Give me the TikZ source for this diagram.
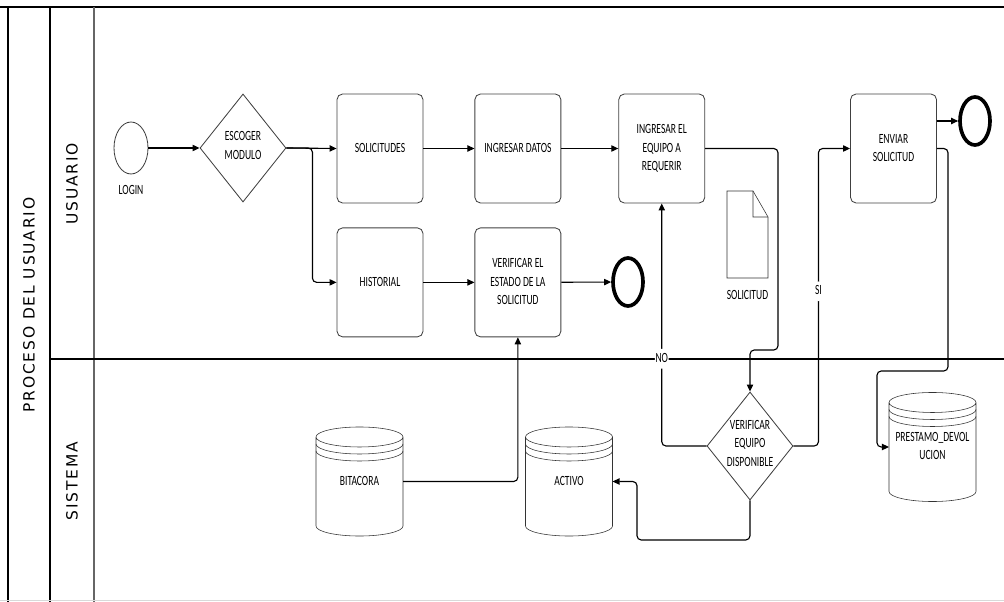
\documentclass[tikz,border=0pt]{standalone}
\usepackage{fontspec}
\usepackage{graphicx}
\setmainfont{Carlito}
\newfontfamily\lanefont[LetterSpace=12]{DejaVu Sans}
\usetikzlibrary{arrows.meta, positioning, shapes.geometric}

% narrow text as in the original drawing
\newcommand{\lbl}[1]{\scalebox{0.68}[1]{\begin{tabular}{@{}c@{}}#1\end{tabular}}}
% text that does not widen a diamond
\newcommand{\gatetxt}[1]{\makebox[0pt]{\raisebox{-2.5pt}{\smash{\lbl{#1}}}}}

% three-ring data store drawn on a named node
\newcommand{\dbdraw}[1]{%
  \draw[draw=black!80] ([yshift=-0.25cm]#1.north west) -- ([yshift=0.25cm]#1.south west)
    arc[start angle=180, end angle=360, x radius=1.0875cm, y radius=0.25cm]
    -- ([yshift=-0.25cm]#1.north east)
    arc[start angle=0, end angle=180, x radius=1.0875cm, y radius=0.25cm]
    arc[start angle=180, end angle=360, x radius=1.0875cm, y radius=0.25cm];
  \draw[draw=black!80] ([yshift=-0.425cm]#1.north west)
    arc[start angle=180, end angle=360, x radius=1.0875cm, y radius=0.25cm];
  \draw[draw=black!80] ([yshift=-0.6cm]#1.north west)
    arc[start angle=180, end angle=360, x radius=1.0875cm, y radius=0.25cm];
}

\begin{document}
\begin{tikzpicture}[
    x=0.025cm, y=-0.025cm,
    txt/.style={font=\fontsize{10}{13}\selectfont},
    task/.style={txt, draw=black!75, semithick, rounded corners=4pt, minimum width=2.15cm, minimum height=2.725cm, inner sep=0pt},
    gate/.style={txt, draw=black!75, semithick, diamond, minimum width=2.15cm, minimum height=2.7cm, inner sep=0pt},
    startev/.style={draw=black!75, semithick, ellipse, minimum width=0.85cm, minimum height=1.3cm},
    endev/.style={draw, ellipse, line width=2.6pt, minimum width=0.75cm, minimum height=1.2cm},
    store/.style={txt, rectangle, minimum width=2.175cm, minimum height=2.725cm, inner sep=0pt, outer sep=0pt},
    docbox/.style={rectangle, minimum width=1.025cm, minimum height=2.175cm, inner sep=0pt, outer sep=0pt},
    lane/.style={font=\lanefont\fontsize{11}{13}\selectfont, rotate=90},
    tag/.style={txt, fill=white, inner sep=0.5pt},
    arrow/.style={-{Triangle[length=5pt,width=4.5pt]}, thick, rounded corners=3pt}
]
\useasboundingbox (0,0) rectangle (1004,602);

% pool and lanes
\draw[line width=1.6pt] (0,7) -- (1004,7);
\draw[thick] (8,7) -- (8,602);
\draw[thick] (50,7) -- (50,602);
\draw[thick, black!60] (94,7) -- (94,602);
\draw[line width=1.2pt] (50,359) -- (1004,359);
\draw[black!15] (0,600) -- (1004,600);

\node[lane] (pool) at (29,305) {PROCESO DEL USUARIO};
\node[lane] (usuario) at (72,184) {USUARIO};
\node[lane] (sistema) at (72,481) {SISTEMA};

% lane USUARIO
\node[startev] (login) at (131,148) {};
\node[txt, below=0.5mm of login] (loginlbl) {\lbl{LOGIN}};
\node[gate] (escoger) at (243,148) {\gatetxt{ESCOGER\\MODULO}};

\node[task] (solic) at (380,148.5) {\lbl{SOLICITUDES}};
\node[task, right=1.275cm of solic] (datos) {\lbl{INGRESAR DATOS}};
\node[task, right=1.425cm of datos] (equipo) {\lbl{INGRESAR EL\\EQUIPO A\\REQUERIR}};

\node[task, below=0.6cm of solic] (hist) {\lbl{HISTORIAL}};
\node[task, below=0.6cm of datos] (estado) {\lbl{VERIFICAR EL\\ESTADO DE LA\\SOLICITUD}};
\node[endev] (fin1) at (628,282) {};

\node[docbox] (doc) at (747.5,234.5) {};
\draw[draw=black!80] (doc.north west) -- ([xshift=-0.375cm]doc.north east)
  -- ([yshift=-0.65cm]doc.north east) -- (doc.south east) -- (doc.south west) -- cycle;
\draw[draw=black!80] ([xshift=-0.375cm]doc.north east) -- ++(0,26) -- ([yshift=-0.65cm]doc.north east);
\node[txt, below=1mm of doc] (doclbl) {\lbl{SOLICITUD}};

\node[task] (enviar) at (893.5,148.5) {\lbl{ENVIAR\\SOLICITUD}};
\node[endev] (fin2) at (975,121) {};

% lane SISTEMA
\node[gate] (verif) at (750,446) {\gatetxt{VERIFICAR\\EQUIPO\\DISPONIBLE}};
\node[store] (bitacora) at (359.5,481.5) {\lbl{BITACORA}};
\node[store] (activo) at (569,481.5) {\lbl{ACTIVO}};
\node[store] (prestamo) at (932.5,447) {\lbl{PRESTAMO\_DEVOL\\UCION}};
\dbdraw{bitacora}
\dbdraw{activo}
\dbdraw{prestamo}

% flow
\draw[arrow] (login) -- (escoger);
\draw[arrow] (escoger.east) -- (solic.west);
\draw[arrow] (escoger.east) -- ++(26,0) |- (hist.west);
\draw[arrow] (solic) -- (datos);
\draw[arrow] (datos) -- (equipo);
\draw[arrow] (hist) -- (estado);
\draw[arrow] (estado) -- (fin1);
\draw[arrow] (equipo.east) -| (778,350) -| (verif.north);
\draw[arrow] (verif.west) -| node[tag, pos=0.68] {\lbl{NO}} (equipo.south);
\draw[arrow] (verif.east) -- ++(25,0) |- node[tag, pos=0.26] {\lbl{SI}} (enviar.west);
\draw[arrow] (verif.south) |- (637,540) |- (activo.east);
\draw[arrow] (bitacora.east) -| (estado.south);
\draw[arrow] (enviar.east |- fin2) -- (fin2.west);
\draw[arrow] (enviar.east) -| (948,371) -| (877,447) -- (prestamo.west);

\end{tikzpicture}
\end{document}
